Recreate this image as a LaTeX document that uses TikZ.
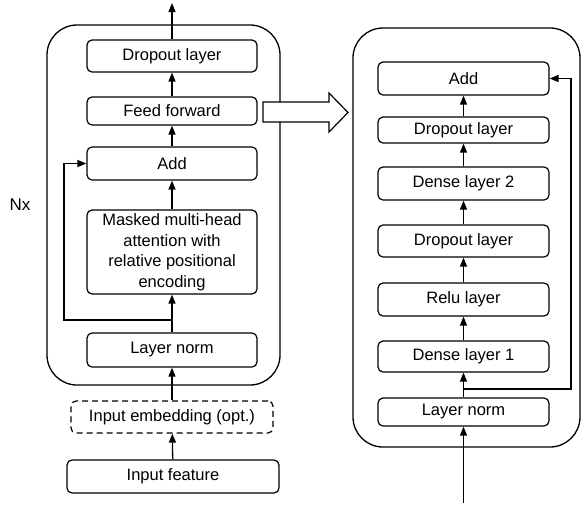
\documentclass[tikz,border=0pt]{standalone}
\usepackage{fontspec}
\setmainfont{Liberation Sans}
\usetikzlibrary{arrows.meta, positioning}

\tikzset{
  layer/.style={draw, rounded corners=5pt, line width=1.2pt, minimum width=170pt, inner sep=0, align=center, font=\fontsize{16.5}{20.5}\selectfont},
  block/.style={draw, rounded corners=30pt, line width=1.3pt},
  flow/.style={-{Triangle[length=9pt,width=7pt]}, line width=1.3pt},
}

\begin{document}
\begin{tikzpicture}[x=1pt, y=-1pt]
  \useasboundingbox (0,0) rectangle (584,504);
  % the two outer blocks
  \draw [block] (47,25) rectangle (280,385);
  \draw [block] (353,28) rectangle (580,447);

  % left stack
  \node [layer, minimum height=32pt] (LDrop) at (172,56) {Dropout layer};
  \node [layer, minimum height=28pt] (LFF) at (172,111) {Feed forward};
  \node [layer, minimum height=33pt] (LAdd) at (172,163.5) {Add};
  \node [layer, minimum height=84pt] (LMHA) at (172,252) {Masked multi-head\\attention with\\relative positional\\encoding};
  \node [layer, minimum height=34pt] (LNorm) at (172,350) {Layer norm};
  \node [layer, dash pattern=on 6pt off 4pt, minimum width=202pt, minimum height=32pt] (LEmb) at (172,417) {Input embedding (opt.)};
  \node [layer, minimum width=212pt, minimum height=33pt] (LIn) at (173,476.5) {Input feature};
  \node [font=\fontsize{17}{20}\selectfont] (Nx) at (20,205) {Nx};

  % right stack
  \node [layer, minimum width=171pt, minimum height=33pt] (RAdd) at (463.5,78.5) {Add};
  \node [layer, minimum width=171pt, minimum height=26pt] (RDrop2) at (463.5,130) {Dropout layer};
  \node [layer, minimum width=171pt, minimum height=33pt] (RDense2) at (463.5,183.5) {Dense layer 2};
  \node [layer, minimum width=171pt, minimum height=32pt] (RDrop1) at (463.5,241) {Dropout layer};
  \node [layer, minimum width=171pt, minimum height=33pt] (RRelu) at (463.5,299.5) {Relu layer};
  \node [layer, minimum width=171pt, minimum height=31pt] (RDense1) at (463.5,356.5) {Dense layer 1};
  \node [layer, minimum width=171pt, minimum height=28pt] (RNorm) at (463.5,412) {Layer norm};

  \coordinate (out) at (172,3);
  \coordinate (lsplit) at (172,320);
  \coordinate (in) at (463.5,503);
  \coordinate (rsplit) at (463.5,389);

  % left connectors
  \draw [flow] (LIn) -- (LEmb);
  \draw [flow] (LEmb) -- (LNorm);
  \draw [flow] (LNorm) -- (LMHA);
  \draw [flow] (LMHA) -- (LAdd);
  \draw [flow] (LAdd) -- (LFF);
  \draw [flow] (LFF) -- (LDrop);
  \draw [flow] (LDrop) -- (out);
  \draw [flow] (lsplit) -- (64,320) |- (LAdd.west);

  % right connectors
  \draw [flow] (in) -- (RNorm);
  \draw [flow] (RNorm) -- (RDense1);
  \draw [flow] (RDense1) -- (RRelu);
  \draw [flow] (RRelu) -- (RDrop1);
  \draw [flow] (RDrop1) -- (RDense2);
  \draw [flow] (RDense2) -- (RDrop2);
  \draw [flow] (RDrop2) -- (RAdd);
  \draw [flow] (rsplit) -- (571,389) |- (RAdd.east);

  % hollow arrow between the blocks
  \draw [line width=1.2pt, fill=white] (263,102) -- (329,102) -- (329,93) -- (348,112.5) -- (329,132) -- (329,122) -- (263,122) -- cycle;
\end{tikzpicture}
\end{document}
